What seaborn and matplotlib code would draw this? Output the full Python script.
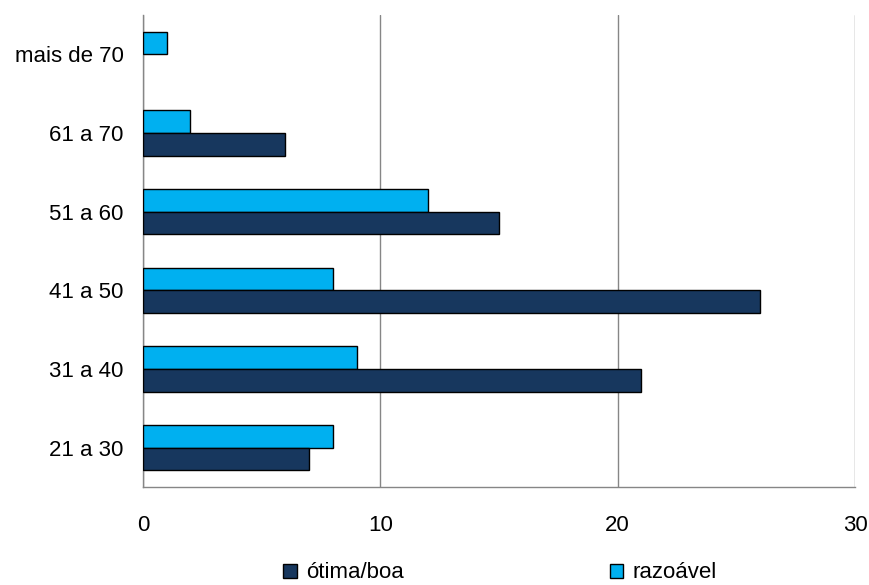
import matplotlib
matplotlib.use("Agg")
import matplotlib.pyplot as plt
import seaborn as sns
import pandas as pd
from matplotlib.patches import Patch

categories = ["mais de 70", "61 a 70", "51 a 60", "41 a 50", "31 a 40", "21 a 30"]
otima_boa = [0, 6, 15, 26, 21, 7]
razoavel = [1, 2, 12, 8, 9, 8]
series_names = ["ótima/boa", "razoável"]
x_ticks = [0, 10, 20, 30]

colors = {"ótima/boa": "#17375E", "razoável": "#00B0F0"}

df = pd.DataFrame({
    "faixa": categories * 2,
    "valor": otima_boa + razoavel,
    "serie": [series_names[0]] * len(categories) + [series_names[1]] * len(categories),
})

sns.set_style("white")
plt.rcParams["font.family"] = ["Liberation Sans", "DejaVu Sans"]
plt.rcParams["text.color"] = "black"
plt.rcParams["xtick.color"] = "black"
plt.rcParams["ytick.color"] = "black"

fig = plt.figure(figsize=(8.69, 5.85), dpi=100)
ax = fig.add_axes([143 / 869, 1 - 487 / 585, (855 - 143) / 869, (487 - 15) / 585])

sns.barplot(data=df, y="faixa", x="valor", hue="serie", order=categories,
            hue_order=["razoável", "ótima/boa"], palette=colors, orient="h",
            width=0.58, edgecolor="black", linewidth=1.0, ax=ax, legend=False,
            saturation=1, zorder=3)

# hide edges of zero-length bars
for p in ax.patches:
    if abs(p.get_width()) < 1e-9:
        p.set_visible(False)

ax.set_xlim(0, 30)
ax.set_xticks(x_ticks)
ax.set_xticklabels([str(t) for t in x_ticks])
ax.set_ylim(len(categories) - 0.5, -0.5)
ax.set_xlabel("")
ax.set_ylabel("")
ax.grid(axis="x", color="#868686", linewidth=1.0, zorder=0)
ax.grid(axis="y", visible=False)

for s in ["top", "right"]:
    ax.spines[s].set_visible(False)
for s in ["left", "bottom"]:
    ax.spines[s].set_color("#868686")
    ax.spines[s].set_linewidth(1.0)

# category boundary ticks on y
ax.set_yticks([i - 0.5 for i in range(len(categories) + 1)], minor=True)
ax.tick_params(axis="y", which="major", length=0, pad=14, labelsize=16, labelcolor="black")
ax.tick_params(axis="y", which="minor", length=8, color="#868686", width=1)
ax.tick_params(axis="x", which="major", length=8, color="#868686", width=1,
               pad=12, labelsize=16, direction="out", labelcolor="black")
ax.tick_params(axis="x", which="minor", length=0)

handles = [Patch(facecolor=colors[n], edgecolor="black", linewidth=1.0, label=n)
           for n in series_names]
fig.legend(handles=handles, loc="center", bbox_to_anchor=(500 / 869, 1 - 573 / 585),
           ncol=2, frameon=False, fontsize=16, handlelength=0.6, handleheight=0.6,
           handletextpad=0.4, columnspacing=9.3)

fig.savefig("out.png", dpi=100)
